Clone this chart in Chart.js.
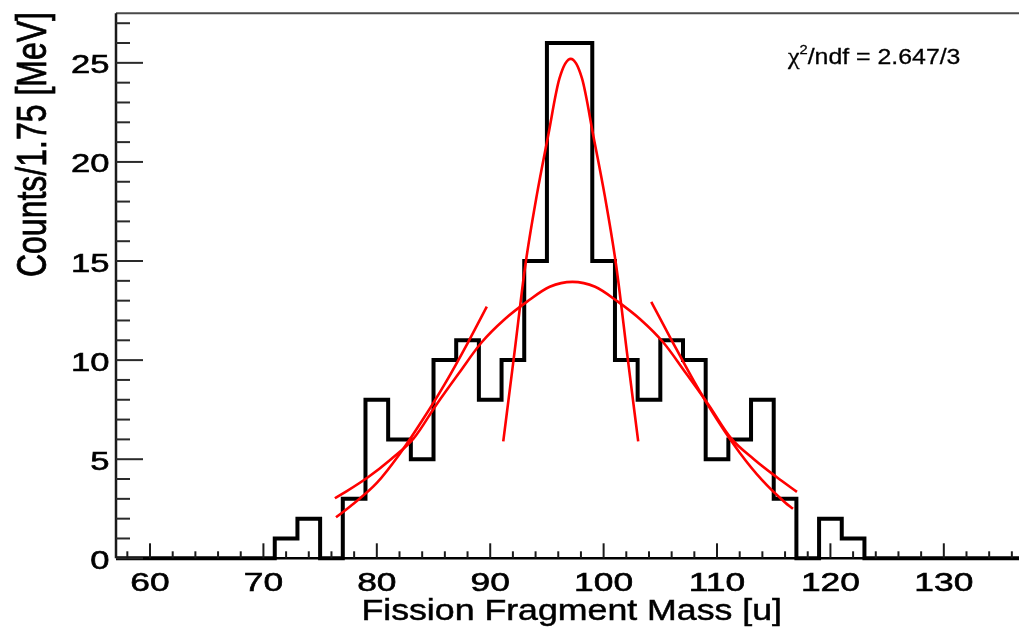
<!DOCTYPE html>
<html>
<head>
<meta charset="utf-8">
<script src="https://cdn.jsdelivr.net/npm/chart.js@4.4.1/dist/chart.umd.min.js"></script>
<style>
  html, body { margin: 0; padding: 0; background: #fff; overflow: hidden; }
  canvas { display: block; }
</style>
</head>
<body>
<canvas id="massChart" width="1019" height="627"></canvas>
<script>
// histogram: lower bin edges (width 2 u) and counts per bin
const binWidth = 2
const massBins = [57, 59, 61, 63, 65, 67, 69, 71, 73, 75, 77, 79, 81, 83, 85, 87, 89, 91, 93, 95,
                  97, 99, 101, 103, 105, 107, 109, 111, 113, 115, 117, 119, 121, 123, 125, 127, 129, 131, 133, 135]
const counts   = [0, 0, 0, 0, 0, 0, 0, 1, 2, 0, 3, 8, 6, 5, 10, 11, 8, 10, 15, 26,
                  26, 15, 10, 8, 11, 10, 5, 6, 8, 3, 0, 2, 1, 0, 0, 0, 0, 0, 0, 0]

// fitted curves, sampled
const narrowFitX = [91.15, 92.1, 93.1, 94.1, 95.1, 96.1, 97.1, 98.1, 99.1, 100.1, 101.1, 102.1, 103.05]
const narrowFitY = [5.9, 10.2, 14.8, 18.3, 21.3, 24.2, 25.2, 24.2, 21.3, 18.3, 14.8, 10.2, 5.9]

const wideFitX = [76.3, 77.25, 79.25, 81.25, 83.25, 85.25, 87.25, 89.25, 91.25, 93.25, 95.25, 97.25,
                  99.25, 101.25, 103.25, 105.25, 107.25, 109.25, 111.25, 113.25, 115.25, 117.05]
const wideFitY = [3.03, 3.35, 4.1, 5.0, 6.05, 7.75, 9.35, 10.9, 12.05, 12.95, 13.7, 13.95,
                  13.7, 12.95, 12.05, 10.9, 9.35, 7.75, 6.05, 5.0, 4.1, 3.35]

const leftTailX = [76.4, 78, 80, 82, 84, 86, 88, 89.7]
const leftTailY = [2.07, 2.78, 3.8, 5.25, 6.95, 8.8, 10.85, 12.7]

const rightTailX = [104.2, 106, 108, 110, 112, 114, 116, 116.7]
const rightTailY = [12.94, 11.0, 8.9, 7.0, 5.33, 3.93, 2.82, 2.5]

// axes
const xMin = 57, xMax = 136.63
const yMin = 0, yMax = 27.5
const xTickLabels = [60, 70, 80, 90, 100, 110, 120, 130]
const yTickLabels = [0, 5, 10, 15, 20, 25]
const xTitle = 'Fission Fragment Mass [u]'
const yTitle = 'Counts/1.75 [MeV]'
const fitChi2 = '2.647'
const fitNdf = '3'

const histPoints = []
massBins.forEach((lo, i) => {
  histPoints.push({x: lo, y: counts[i]})
  histPoints.push({x: lo + binWidth, y: counts[i]})
})

const zip = (xs, ys) => xs.map((x, i) => ({x: x, y: ys[i]}))

function fitLine(xs, ys) {
  return {
    data: zip(xs, ys),
    borderColor: '#ff0000',
    borderWidth: 2.6,
    pointRadius: 0,
    cubicInterpolationMode: 'monotone',
    fill: false,
    order: 1
  }
}

// text stretched sideways, with a thin outline to give it some weight
function wideText(ctx, text, x, y, font, sx, align, weight) {
  ctx.save()
  ctx.font = font
  ctx.textAlign = align
  ctx.textBaseline = 'alphabetic'
  ctx.translate(x, y)
  ctx.scale(sx, 1)
  ctx.fillText(text, 0, 0)
  if (weight) {
    ctx.lineWidth = weight
    ctx.strokeStyle = ctx.fillStyle
    ctx.strokeText(text, 0, 0)
  }
  ctx.restore()
}

// ROOT style frame: inward ticks, labels and titles
const rootFrame = {
  id: 'rootFrame',
  afterDatasetsDraw(chart) {
    const ctx = chart.ctx
    const area = chart.chartArea
    const xs = chart.scales.x
    const ys = chart.scales.y
    ctx.save()

    // top frame line
    ctx.strokeStyle = '#4a4a4a'
    ctx.lineWidth = 2
    ctx.beginPath()
    ctx.moveTo(area.left, area.top)
    ctx.lineTo(area.right, area.top)
    ctx.stroke()

    // left axis
    ctx.strokeStyle = '#1a1a1a'
    ctx.lineWidth = 2.5
    ctx.beginPath()
    ctx.moveTo(area.left, area.top)
    ctx.lineTo(area.left, area.bottom)
    ctx.stroke()

    // bottom axis
    ctx.strokeStyle = '#000'
    ctx.lineWidth = 2.5
    ctx.beginPath()
    ctx.moveTo(area.left, area.bottom)
    ctx.lineTo(area.right, area.bottom)
    ctx.stroke()

    // y ticks, one per count, long every 5
    ctx.strokeStyle = '#2a2a2a'
    ctx.lineWidth = 2
    for (let v = 0; v <= Math.floor(yMax); v++) {
      const py = ys.getPixelForValue(v)
      const len = v % 5 === 0 ? 27 : 14
      ctx.beginPath()
      ctx.moveTo(area.left, py)
      ctx.lineTo(area.left + len, py)
      ctx.stroke()
    }

    // x ticks, every 2 u, long every 10
    ctx.strokeStyle = '#1a1a1a'
    for (let v = 58; v <= xMax; v += 2) {
      const px = xs.getPixelForValue(v)
      const len = v % 10 === 0 ? 15 : 7
      ctx.beginPath()
      ctx.moveTo(px, area.bottom)
      ctx.lineTo(px, area.bottom - len)
      ctx.stroke()
    }

    ctx.fillStyle = '#000'
    const labelFont = '26px "Liberation Sans", Arial, sans-serif'
    yTickLabels.forEach(v => {
      wideText(ctx, String(v), 109.5, ys.getPixelForValue(v) + 10.5, labelFont, 1.33, 'right', 0.6)
    })
    xTickLabels.forEach(v => {
      wideText(ctx, String(v), xs.getPixelForValue(v), 590.5, labelFont, 1.36, 'center', 0.6)
    })

    // axis titles
    wideText(ctx, xTitle, 782, 620, '30px "Liberation Sans", Arial, sans-serif', 1.19, 'right', 0.5)

    ctx.save()
    ctx.font = '32px "Liberation Sans", Arial, sans-serif'
    ctx.textAlign = 'right'
    ctx.textBaseline = 'alphabetic'
    ctx.translate(46, 12)
    ctx.scale(1.3, 1)
    ctx.rotate(-Math.PI / 2)
    ctx.fillText(yTitle, 0, 0)
    ctx.lineWidth = 0.6
    ctx.strokeStyle = '#000'
    ctx.strokeText(yTitle, 0, 0)
    ctx.restore()

    // fit quality
    const runs = [
      {t: '\u03c7', font: '23px "Liberation Serif", serif', dy: 0},
      {t: '2', font: '13px "Liberation Sans", Arial, sans-serif', dy: -10},
      {t: '/ndf = ' + fitChi2 + '/' + fitNdf, font: '22px "Liberation Sans", Arial, sans-serif', dy: 0}
    ]
    let tx = 788
    const sx = 1.13
    runs.forEach(r => {
      ctx.font = r.font
      const w = ctx.measureText(r.t).width
      wideText(ctx, r.t, tx, 64.3 + r.dy, r.font, sx, 'left', 0.3)
      tx += w * sx
    })

    ctx.restore()
  }
}

new Chart(document.getElementById('massChart'), {
  type: 'line',
  data: {
    datasets: [
      fitLine(narrowFitX, narrowFitY),
      fitLine(wideFitX, wideFitY),
      fitLine(leftTailX, leftTailY),
      fitLine(rightTailX, rightTailY),
      {
        data: histPoints,
        borderColor: '#000',
        borderWidth: 4,
        borderJoinStyle: 'miter',
        pointRadius: 0,
        tension: 0,
        fill: false,
        clip: false,
        order: 2
      }
    ]
  },
  options: {
    responsive: false,
    animation: false,
    events: [],
    layout: {padding: {left: 116, top: 13.3, right: 0, bottom: 68.7}},
    plugins: {legend: {display: false}, tooltip: {enabled: false}},
    scales: {
      x: {type: 'linear', min: xMin, max: xMax, display: false},
      y: {type: 'linear', min: yMin, max: yMax, display: false}
    }
  },
  plugins: [rootFrame]
})
</script>
</body>
</html>
